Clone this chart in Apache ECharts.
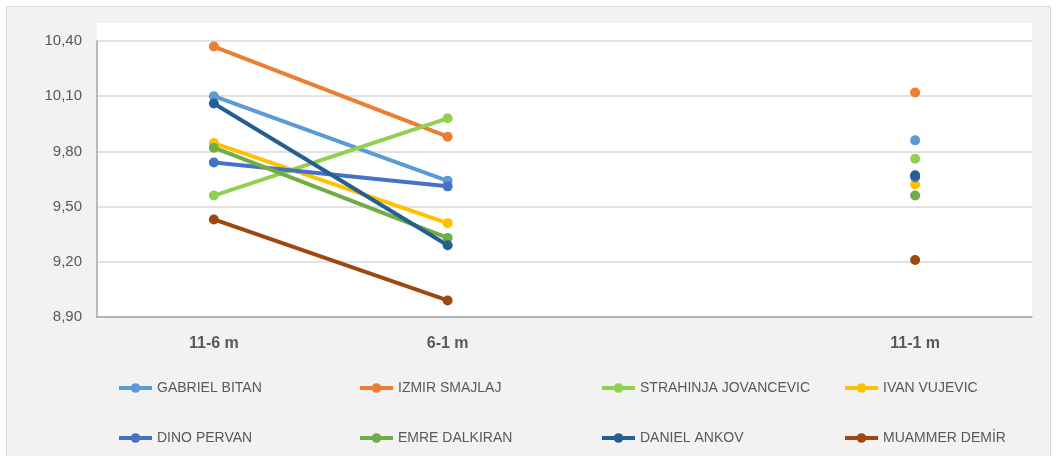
<!DOCTYPE html>
<html><head><meta charset="utf-8">
<script src="https://cdn.jsdelivr.net/npm/echarts@6/dist/echarts.min.js"></script>
<style>html,body{margin:0;padding:0;background:#fff}#c{width:1057px;height:456px}</style>
</head><body><div id="c"></div>
<script>
const categories = ['11-6 m', '6-1 m', '', '11-1 m'];
const yTicks = { min: 8.9, max: 10.4, interval: 0.3 };
const names = ['GABRIEL BITAN', 'IZMIR SMAJLAJ', 'STRAHINJA JOVANCEVIC', 'IVAN VUJEVIC',
               'DINO PERVAN', 'EMRE DALKIRAN', 'DANIEL ANKOV', 'MUAMMER DEMİR'];
const gabriel   = [10.10, 9.64, null, 9.86];
const izmir     = [10.37, 9.88, null, 10.12];
const strahinja = [9.56, 9.98, null, 9.76];
const ivan      = [9.845, 9.41, null, 9.62];
const dino      = [9.74, 9.61, null, 9.66];
const emre      = [9.82, 9.33, null, 9.56];
const daniel    = [10.06, 9.29, null, 9.67];
const muammer   = [9.43, 8.99, null, 9.21];
const colors = ['#5B9BD5', '#ED7D31', '#92D050', '#FFC000', '#4472C4', '#70AD47', '#255E91', '#9E480E'];
const values = [gabriel, izmir, strahinja, ivan, dino, emre, daniel, muammer];

const chart = echarts.init(document.getElementById('c'), null, { renderer: 'canvas' });
const font = "'Liberation Sans', sans-serif";
const colLeft = [117, 358, 600, 843];
const rowTop = [381, 431];
const legends = names.map((n, i) => ({
  left: colLeft[i % 4], top: rowTop[Math.floor(i / 4)], padding: 0,
  itemWidth: 33, itemHeight: 12, itemGap: 0,
  lineStyle: { width: 4 },
  textStyle: { color: '#595959', fontSize: 14, fontFamily: font },
  data: [n]
}));
chart.setOption({
  animation: false,
  backgroundColor: '#fff',
  color: colors,
  graphic: { elements: [
    { type: 'rect', z: -100, silent: true, shape: { x: 6.5, y: 6.5, width: 1044, height: 460 },
      style: { fill: '#f2f2f2', stroke: '#d9d9d9', lineWidth: 1 } },
    { type: 'rect', z: -99, silent: true, shape: { x: 97, y: 23, width: 935, height: 294 },
      style: { fill: '#ffffff' } }
  ]},
  grid: { left: 97, right: 25, top: 41, bottom: 139 },
  legend: legends,
  xAxis: {
    type: 'category', data: categories, boundaryGap: true,
    axisLine: { lineStyle: { color: '#a6a6a6', width: 1.5 } },
    axisTick: { show: false },
    axisLabel: { color: '#595959', fontSize: 16, fontWeight: 'bold', fontFamily: font, margin: 19 }
  },
  yAxis: {
    type: 'value', min: yTicks.min, max: yTicks.max, interval: yTicks.interval,
    axisLine: { show: true, lineStyle: { color: '#a6a6a6', width: 1.5 } },
    axisTick: { show: false },
    splitLine: { lineStyle: { color: '#d9d9d9', width: 1.5 } },
    axisLabel: { color: '#595959', fontSize: 15, fontFamily: font, margin: 15,
      formatter: v => v.toFixed(2).replace('.', ',') }
  },
  series: names.map((n, i) => ({
    name: n, type: 'line', data: values[i], connectNulls: false,
    symbol: 'circle', symbolSize: 10, showSymbol: true,
    lineStyle: { width: 4, color: colors[i] },
    itemStyle: { color: colors[i] }
  }))
});
</script></body></html>
